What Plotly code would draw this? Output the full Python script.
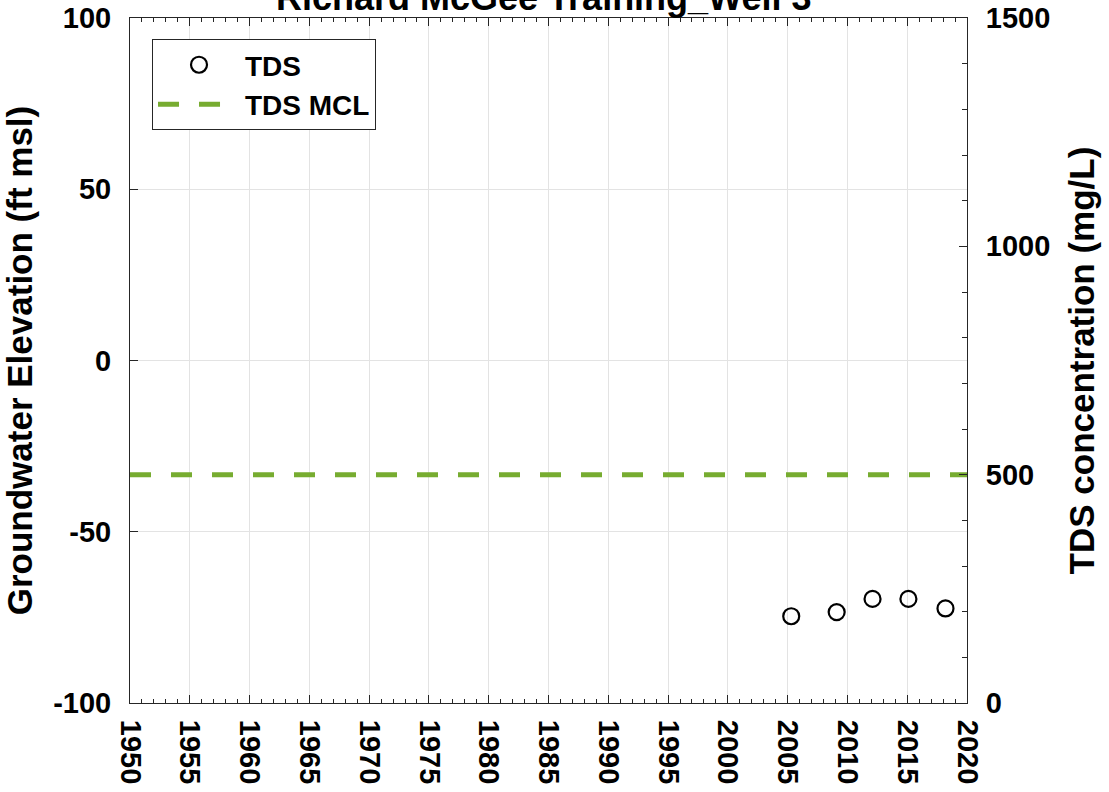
import plotly.graph_objects as go

# ---- data ----
tds_years = [2005.3, 2009.1, 2012.1, 2015.1, 2018.2]
tds_values = [190, 199, 228, 228, 207]
mcl_years = [1950, 2020]
mcl_values = [500, 500]

x_ticks = list(range(1950, 2021, 5))
x_ticklabels = [str(v) for v in x_ticks]
left_ticks = [-100, -50, 0, 50, 100]
left_ticklabels = ["-100", "-50", "0", "50", "100"]
right_ticks = [0, 500, 1000, 1500]
right_ticklabels = ["0", "500", "1000", "1500"]

title_text = "Richard McGee Training_Well 3"
left_title = "Groundwater Elevation (ft msl)"
right_title = "TDS concentration (mg/L)"

FONT = "Liberation Sans, Arial, sans-serif"
AX = "#262626"
TICK_SIZE = 29
LABEL_SIZE = 35

fig = go.Figure()
fig.add_trace(go.Scatter(x=[], y=[], yaxis="y", showlegend=False, hoverinfo="skip"))
fig.add_trace(go.Scatter(
    x=tds_years, y=tds_values, yaxis="y2", mode="markers", name="TDS",
    marker=dict(symbol="circle-open", size=16, color="black", line=dict(width=2.2, color="black")),
))
fig.add_trace(go.Scatter(
    x=mcl_years, y=mcl_values, yaxis="y2", mode="lines", name="TDS MCL",
    line=dict(color="#77AC30", width=5, dash="21px,20px"),
))

fig.update_layout(
    width=1109, height=792,
    margin=dict(l=130, r=142, t=18, b=89, autoexpand=False),
    plot_bgcolor="white", paper_bgcolor="white",
    font=dict(family=FONT, color=AX, weight="bold"),
    showlegend=True,
    legend=dict(
        x=0.0263, y=0.9693, xanchor="left", yanchor="top",
        bgcolor="white", bordercolor=AX, borderwidth=1,
        font=dict(size=28, family=FONT, color="black", weight="bold"),
        itemwidth=82, tracegroupgap=0,
    ),
    xaxis=dict(
        range=[1950, 2020], tickmode="array", tickvals=x_ticks, ticktext=x_ticklabels,
        tickangle=90, ticks="inside", ticklen=8, tickcolor=AX, automargin=False,
        showline=True, linecolor=AX, linewidth=1, mirror="ticks",
        showgrid=True, gridcolor="#e3e3e3", gridwidth=1, zeroline=False,
        tickfont=dict(size=TICK_SIZE, family=FONT, color="black", weight="bold"),
        ticklabelstandoff=10,
        minor=dict(dtick=1, tick0=1950, ticks="inside", ticklen=4, tickcolor=AX, showgrid=False),
    ),
    yaxis=dict(
        range=[-100, 100], tickmode="array", tickvals=left_ticks, ticktext=left_ticklabels,
        ticks="inside", ticklen=8, tickcolor=AX, automargin=False,
        showline=True, linecolor=AX, linewidth=1, mirror=False,
        showgrid=True, gridcolor="#e3e3e3", gridwidth=1, zeroline=False,
        tickfont=dict(size=TICK_SIZE, family=FONT, color="black", weight="bold"),
        ticklabelstandoff=12,
        title=dict(text=left_title, font=dict(size=LABEL_SIZE, family=FONT, color="black", weight="bold"), standoff=10),
    ),
    yaxis2=dict(
        range=[0, 1500], overlaying="y", side="right", anchor="x", automargin=False,
        tickmode="array", tickvals=right_ticks, ticktext=right_ticklabels,
        ticks="inside", ticklen=8, tickcolor=AX,
        showline=True, linecolor=AX, linewidth=1, showgrid=False, zeroline=False,
        tickfont=dict(size=TICK_SIZE, family=FONT, color="black", weight="bold"),
        ticklabelstandoff=12,
        minor=dict(dtick=100, tick0=0, ticks="inside", ticklen=5, tickcolor=AX, showgrid=False),
        title=dict(text=right_title, font=dict(size=LABEL_SIZE, family=FONT, color="black", weight="bold"), standoff=20),
    ),
    annotations=[dict(
        text=title_text, xref="paper", yref="paper", x=0.5, y=1, yshift=-2, xshift=-5,
        xanchor="center", yanchor="bottom", showarrow=False,
        font=dict(size=36, family=FONT, color="black", weight="bold"),
    )],
)

fig.write_html(
    "out.html",
    config={"displayModeBar": False},
    post_script="document.body.style.margin='0';document.body.style.overflow='hidden';",
)
